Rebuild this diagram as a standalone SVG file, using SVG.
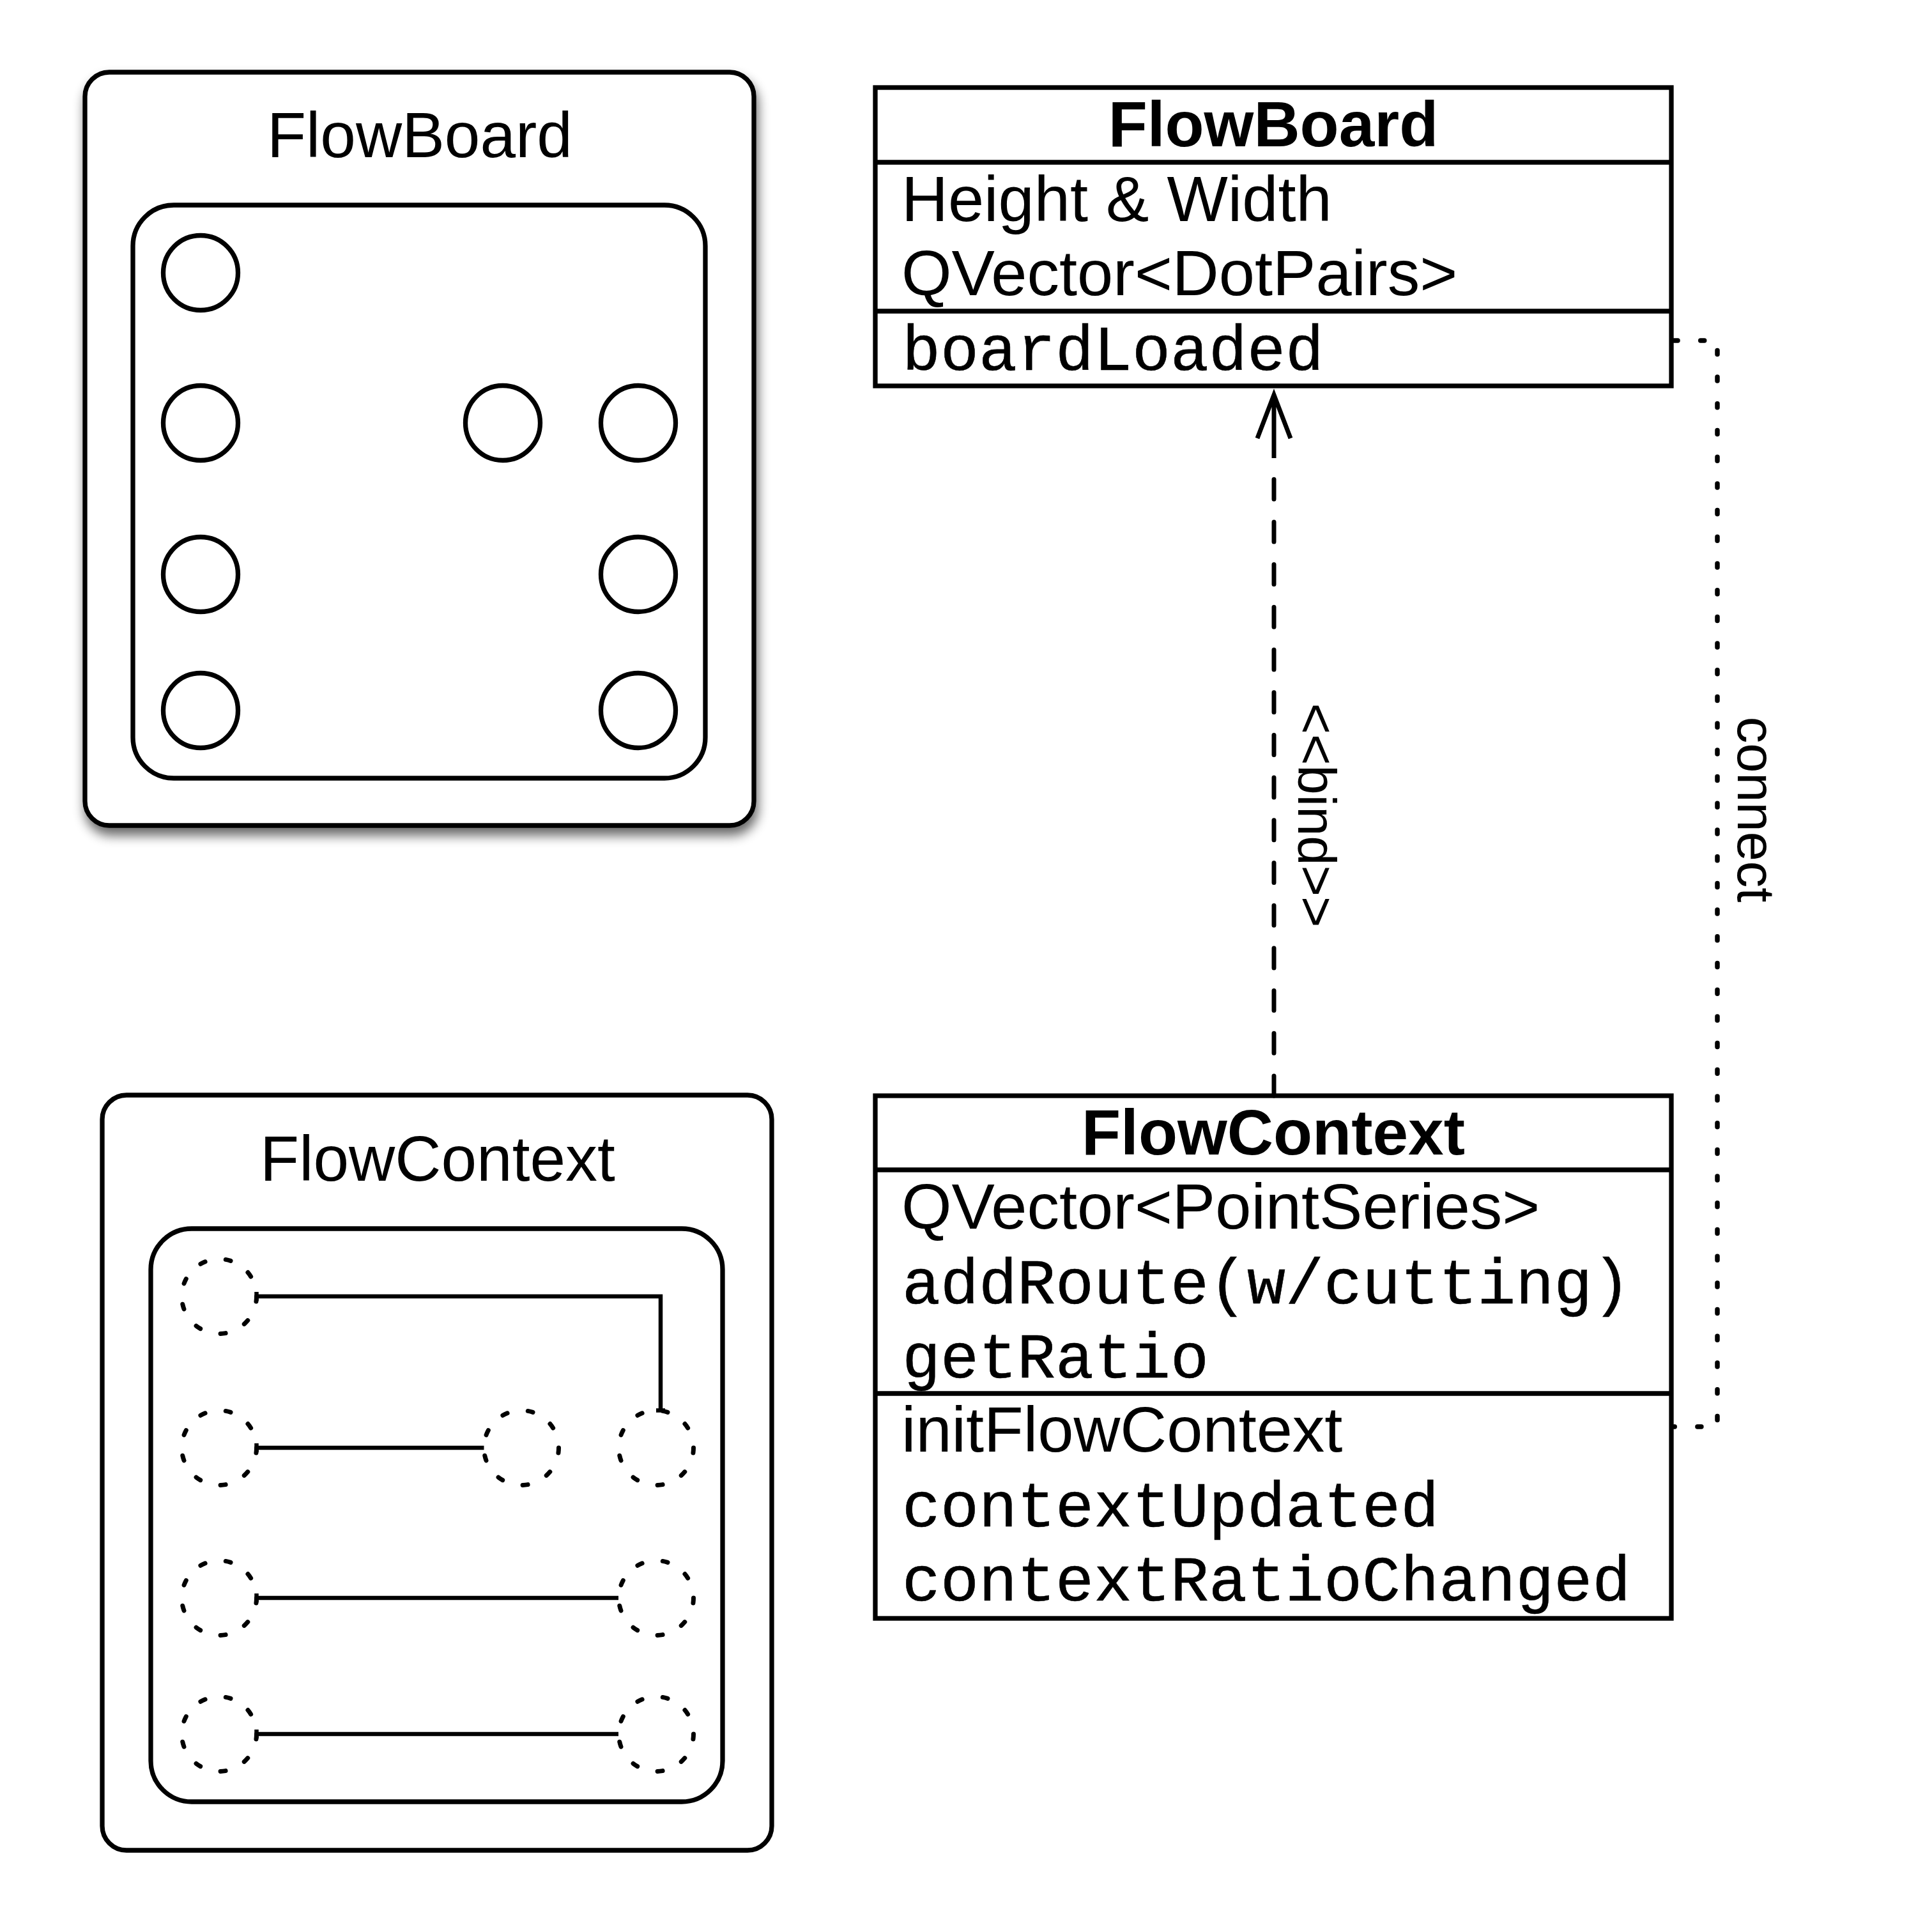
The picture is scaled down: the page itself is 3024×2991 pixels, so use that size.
<svg xmlns="http://www.w3.org/2000/svg" width="3024" height="2991" viewBox="0 0 3024 2991">
<defs>
<filter id="shadow" x="-5%" y="-5%" width="112%" height="114%">
<feGaussianBlur in="SourceAlpha" stdDeviation="9"/>
<feOffset dx="3" dy="12" result="b"/>
<feComponentTransfer><feFuncA type="linear" slope="0.6"/></feComponentTransfer>
<feMerge><feMergeNode/><feMergeNode in="SourceGraphic"/></feMerge>
</filter>
</defs>
<style>
.box{fill:#fff;stroke:#000;stroke-width:7.3}
.dot{fill:none;stroke:#000;stroke-width:7.3}
.ddot{fill:none;stroke:#000;stroke-width:7;stroke-dasharray:8 32.8;stroke-linecap:round}
.ln{fill:none;stroke:#000;stroke-width:6.5}
.sans{font-family:"Liberation Sans",Arial,Helvetica,sans-serif;font-size:100px;fill:#000}
.row{font-size:101px}
.bold{font-weight:bold}
.mono{font-family:"Liberation Mono","Courier New",monospace;font-size:100px;fill:#000;stroke:#000;stroke-width:0.6}
.lbl{font-family:"Liberation Sans",Arial,Helvetica,sans-serif;font-size:83px;fill:#000}
.bind{fill:none;stroke:#000;stroke-width:7;stroke-dasharray:31 35.7;stroke-linecap:round}
.conn{fill:none;stroke:#000;stroke-width:7.5;stroke-dasharray:6 35.7;stroke-linecap:round}
.arrow{fill:none;stroke:#000;stroke-width:7}
</style>

<g id="flowboard-sketch">
<rect class="box" x="133" y="113" width="1047" height="1179" rx="38" filter="url(#shadow)"/>
<text class="sans" x="657" y="246" text-anchor="middle">FlowBoard</text>
<rect class="box" x="208" y="321" width="896" height="897" rx="64"/>
<circle class="dot" cx="314" cy="427" r="58.5"/>
<circle class="dot" cx="314" cy="662" r="58.5"/>
<circle class="dot" cx="314" cy="899" r="58.5"/>
<circle class="dot" cx="314" cy="1112" r="58.5"/>
<circle class="dot" cx="787" cy="662" r="58.5"/>
<circle class="dot" cx="999" cy="662" r="58.5"/>
<circle class="dot" cx="999" cy="899" r="58.5"/>
<circle class="dot" cx="999" cy="1112" r="58.5"/>
</g>

<g id="flowcontext-sketch">
<rect class="box" x="160" y="1714" width="1048" height="1182" rx="38"/>
<text class="sans" x="685" y="1848" text-anchor="middle">FlowContext</text>
<rect class="box" x="236" y="1923" width="895" height="897" rx="64"/>
<circle class="ddot" cx="343" cy="2029" r="58.5"/>
<circle class="ddot" cx="343" cy="2266" r="58.5"/>
<circle class="ddot" cx="343" cy="2501" r="58.5"/>
<circle class="ddot" cx="343" cy="2714" r="58.5"/>
<circle class="ddot" cx="816" cy="2266" r="58.5"/>
<circle class="ddot" cx="1027" cy="2266" r="58.5"/>
<circle class="ddot" cx="1027" cy="2501" r="58.5"/>
<circle class="ddot" cx="1027" cy="2714" r="58.5"/>
<path class="ln" d="M401.5 2029 H1034 V2207.5 M401.5 2022 V2036 M1027 2207.5 H1041"/>
<path class="ln" d="M401.5 2266 H757.5 M401.5 2259 V2273"/>
<path class="ln" d="M401.5 2501 H968 M401.5 2494 V2508"/>
<path class="ln" d="M401.5 2714 H968 M401.5 2707 V2721"/>
</g>

<g id="flowboard-class">
<rect class="box" x="1370" y="137" width="1246" height="467"/>
<path class="box" d="M1370 254 H2616 M1370 487 H2616"/>
<text class="sans bold" x="1993" y="229" text-anchor="middle">FlowBoard</text>
<text class="sans row" x="1411" y="346">Height &amp; Width</text>
<text class="sans row" x="1411" y="462">QVector&lt;DotPairs&gt;</text>
<text class="mono" x="1412" y="579">boardLoaded</text>
</g>

<g id="flowcontext-class">
<rect class="box" x="1370" y="1715" width="1246" height="818"/>
<path class="box" d="M1370 1831 H2616 M1370 2181 H2616"/>
<text class="sans bold" x="1993" y="1807" text-anchor="middle">FlowContext</text>
<text class="sans row" x="1411" y="1923">QVector&lt;PointSeries&gt;</text>
<text class="mono" x="1412" y="2040">addRoute(w/cutting)</text>
<text class="mono" x="1412" y="2156">getRatio</text>
<text class="sans row" x="1411" y="2272">initFlowContext</text>
<text class="mono" x="1412" y="2389">contextUpdated</text>
<text class="mono" x="1412" y="2505">contextRatioChanged</text>
</g>

<g id="connectors">
<path class="bind" d="M1994 1715 V717"/>
<path class="arrow" d="M1968 686 L1994 618 L2020 686 M1994 618 V717"/>
<text class="lbl" transform="translate(2032 1276) rotate(90)" text-anchor="middle">&lt;&lt;bind&gt;&gt;</text>
<path class="conn" d="M2620 533 H2688 V2233 H2620"/>
<text class="lbl" transform="translate(2720 1267) rotate(90)" text-anchor="middle">connect</text>
</g>
</svg>
